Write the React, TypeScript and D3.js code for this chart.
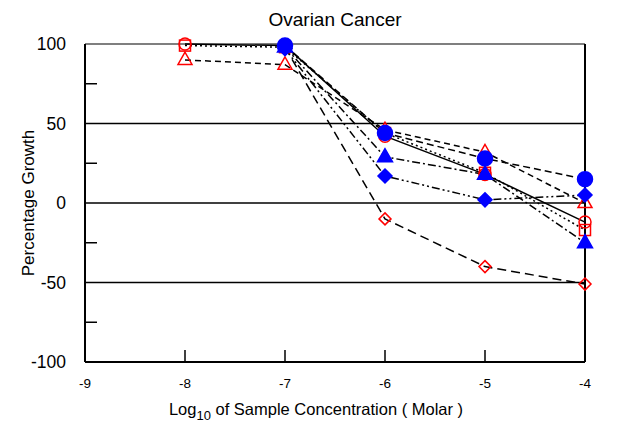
import React from "react";
import * as d3 from "d3";

const concentrations = [-8, -7, -6, -5, -4];
const xTicks = [-9, -8, -7, -6, -5, -4];
const yTicks = [-100, -50, 0, 50, 100];
const yMinorTicks = [-75, -25, 25, 75];
const yGridLines = [-50, 0, 50];

// values per series (null = not measured)
const redCircle = [100, 99, 42, 18, -12];
const redSquare = [99, 98, 44, 19, -17];
const redTriangle = [90, 87, 46, 32, 0];
const redDiamond = [null, 98, -10, -40, -51];
const blueCircle = [null, 99, 44, 28, 15];
const blueTriangle = [null, 98, 29, 18, -25];
const blueDiamond = [null, 97, 17, 2, 5];

type Series = { values: (number | null)[]; shape: string; color: string; filled: boolean; dash: string };

const series: Series[] = [
  { values: redSquare, shape: "square", color: "#ff0000", filled: false, dash: "2,3" },
  { values: redCircle, shape: "circle", color: "#ff0000", filled: false, dash: "" },
  { values: redTriangle, shape: "triangle", color: "#ff0000", filled: false, dash: "6,4" },
  { values: redDiamond, shape: "diamond", color: "#ff0000", filled: false, dash: "9,5" },
  { values: blueCircle, shape: "circle", color: "#0000ff", filled: true, dash: "7,4" },
  { values: blueTriangle, shape: "triangle", color: "#0000ff", filled: true, dash: "8,3,2,3" },
  { values: blueDiamond, shape: "diamond", color: "#0000ff", filled: true, dash: "8,3,2,3,2,3" },
];

const W = 644, H = 425;
const L = 85, R = 585, T = 44, B = 362;

function Marker({ shape, cx, cy, color, filled }: { shape: string; cx: number; cy: number; color: string; filled: boolean }) {
  const fill = filled ? color : "none";
  const sw = 1.5;
  if (shape === "circle") return <circle cx={cx} cy={cy} r={filled ? 7.5 : 6} fill={fill} stroke={color} strokeWidth={sw} />;
  if (shape === "square") return <rect x={cx - 5.5} y={cy - 5.5} width={11} height={11} fill={fill} stroke={color} strokeWidth={sw} />;
  if (shape === "triangle") {
    const s = filled ? 7.5 : 7;
    return <polygon points={`${cx},${cy - s * 1.1} ${cx - s},${cy + s * 0.65} ${cx + s},${cy + s * 0.65}`} fill={fill} stroke={color} strokeWidth={sw} />;
  }
  const s = filled ? 7 : 6;
  return <polygon points={`${cx},${cy - s} ${cx + s},${cy} ${cx},${cy + s} ${cx - s},${cy}`} fill={fill} stroke={color} strokeWidth={sw} />;
}

export default function App() {
  const x = d3.scaleLinear().domain([-9, -4]).range([L, R]);
  const y = d3.scaleLinear().domain([-100, 100]).range([B, T]);
  const font = "'Liberation Sans', Arial, sans-serif";

  const line = d3
    .line<[number, number | null]>()
    .defined((d) => d[1] !== null)
    .x((d) => x(d[0]))
    .y((d) => y(d[1] as number));

  return (
    <svg width={W} height={H} style={{ position: "absolute", left: 0, top: 0 }} fontFamily={font}>
      <rect width={W} height={H} fill="#fff" />
      <text x={335} y={26} textAnchor="middle" fontSize={19}>Ovarian Cancer</text>
      {yGridLines.map((v) => (
        <line key={v} x1={L} x2={R} y1={y(v)} y2={y(v)} stroke="#000" strokeWidth={1.5} />
      ))}
      <line x1={L} x2={R} y1={T} y2={T} stroke="#555" strokeWidth={1.5} />
      {yMinorTicks.map((v) => (
        <line key={v} x1={L} x2={L + 12} y1={y(v)} y2={y(v)} stroke="#000" strokeWidth={1.5} />
      ))}
      {xTicks.map((v) => (
        <line key={v} x1={x(v)} x2={x(v)} y1={B} y2={B - 12} stroke="#000" strokeWidth={1.5} />
      ))}
      <line x1={L} x2={L} y1={T} y2={B} stroke="#000" strokeWidth={2} />
      <line x1={R} x2={R} y1={T} y2={B} stroke="#000" strokeWidth={2} />
      <line x1={L} x2={R} y1={B} y2={B} stroke="#000" strokeWidth={2} />
      {yTicks.map((v) => (
        <text key={v} x={66} y={y(v) + 6} textAnchor="end" fontSize={17.5}>{v}</text>
      ))}
      {xTicks.map((v) => (
        <text key={v} x={x(v)} y={388} textAnchor="middle" fontSize={13.5}>{v}</text>
      ))}
      <text x={316} y={415} textAnchor="middle" fontSize={16.5}>
        Log<tspan dy={5} fontSize={13}>10</tspan><tspan dy={-5}> of Sample Concentration ( Molar )</tspan>
      </text>
      <text transform={`translate(34,${y(0)}) rotate(-90)`} textAnchor="middle" fontSize={17}>Percentage Growth</text>
      {series.map((s, i) => (
        <path
          key={i}
          d={line(concentrations.map((c, j) => [c, s.values[j]] as [number, number | null])) || ""}
          fill="none"
          stroke="#000"
          strokeWidth={1.5}
          strokeDasharray={s.dash}
        />
      ))}
      {series.map((s, i) =>
        concentrations.map((c, j) =>
          s.values[j] === null ? null : (
            <Marker key={`${i}-${j}`} shape={s.shape} cx={x(c)} cy={y(s.values[j] as number)} color={s.color} filled={s.filled} />
          )
        )
      )}
    </svg>
  );
}
